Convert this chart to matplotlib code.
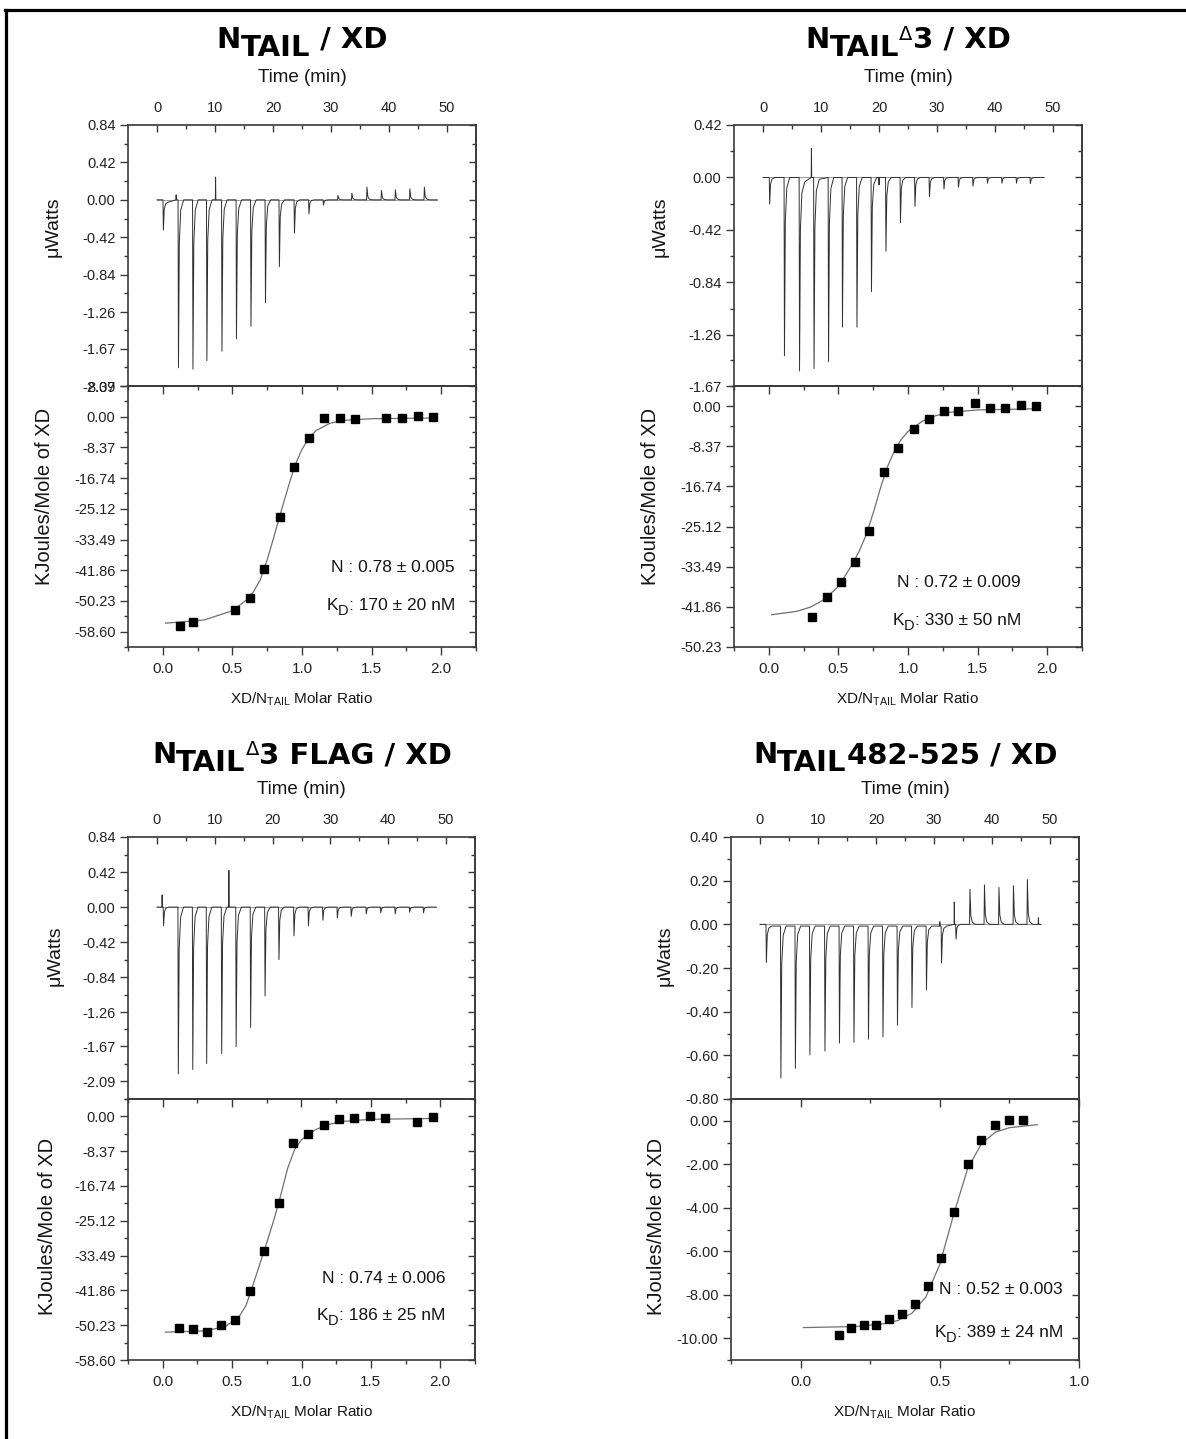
import matplotlib
matplotlib.use('Agg')
import matplotlib.pyplot as plt
from matplotlib.ticker import FixedLocator
from matplotlib.lines import Line2D

plt.rcParams['font.family'] = ['Liberation Sans', 'DejaVu Sans']
plt.rcParams['mathtext.fontset'] = 'custom'
plt.rcParams['mathtext.rm'] = 'Liberation Sans'
plt.rcParams['mathtext.it'] = 'Liberation Sans:italic'
plt.rcParams['mathtext.bf'] = 'Liberation Sans:bold'

# ---- raw thermograms: injection time (min) and peak height (uW) ----
p1_inj_t = [1.1, 3.7, 6.2, 8.6, 11.2, 13.7, 16.2, 18.7, 21.1, 23.7, 26.2, 28.7, 31.2, 33.6, 36.2, 38.7, 41.1, 43.6, 46.1]
p1_inj_h = [-0.34, -1.885, -1.90, -1.805, -1.70, -1.56, -1.42, -1.157, -0.75, -0.373, -0.158, -0.06, 0.05, 0.075, 0.143, 0.105, 0.113, 0.124, 0.143]
p1_art_t = [3.3, 10.1]
p1_art_h = [0.056, 0.256]
p1_drift = [(1.3, 3.2, -0.025), (10.3, 11.0, -0.035)]
p1_end = 48.3

p2_inj_t = [1.15, 3.7, 6.3, 8.8, 11.3, 13.7, 16.2, 18.7, 21.2, 23.7, 26.2, 28.7, 31.2, 33.7, 36.2, 38.7, 41.2, 43.7, 46.1]
p2_inj_h = [-0.213, -1.428, -1.549, -1.53, -1.474, -1.198, -1.198, -0.915, -0.591, -0.362, -0.232, -0.154, -0.092, -0.078, -0.07, -0.046, -0.046, -0.046, -0.05]
p2_art_t = [8.35, 20.0]
p2_art_h = [0.232, -0.06]
p2_drift = [(6.6, 8.2, -0.035), (8.95, 10.6, -0.015)]
p2_end = 48.4

p3_inj_t = [1.15, 3.7, 6.2, 8.6, 11.2, 13.7, 16.2, 18.7, 21.1, 23.7, 26.2, 28.7, 31.2, 33.6, 36.2, 38.7, 41.2, 43.7, 46.1]
p3_inj_h = [-0.223, -1.998, -1.946, -1.876, -1.755, -1.673, -1.442, -1.064, -0.63, -0.345, -0.223, -0.158, -0.13, -0.11, -0.081, -0.069, -0.081, -0.061, -0.069]
p3_art_t = [0.9, 12.44]
p3_art_h = [0.146, 0.439]
p3_drift = []
p3_end = 48.3

p4_inj_t = [1.1, 3.6, 6.1, 8.6, 11.2, 13.7, 16.2, 18.7, 21.2, 23.7, 26.2, 28.7, 31.3, 33.8, 36.2, 38.7, 41.2, 43.7, 46.1]
p4_inj_h = [-0.175, -0.704, -0.66, -0.598, -0.58, -0.544, -0.54, -0.526, -0.516, -0.462, -0.381, -0.30, -0.177, -0.068, 0.161, 0.181, 0.169, 0.177, 0.205]
p4_art_t = [31.0, 33.5, 48.0]
p4_art_h = [0.012, 0.102, 0.03]
p4_drift = [(1.3, 33.3, -0.008)]
p4_end = 48.4

# ---- integrated heats (kJ/mol of XD) ----
p1_ratio = [0.12, 0.22, 0.52, 0.63, 0.73, 0.84, 0.94, 1.05, 1.16, 1.27, 1.38, 1.60, 1.72, 1.83, 1.94]
p1_heat = [-57.1, -55.9, -52.8, -49.3, -41.5, -27.4, -13.8, -5.8, -0.4, -0.4, -0.7, -0.4, -0.4, 0.3, 0.0]
p1_fit_x = [0.02, 0.3, 0.5, 0.6, 0.65, 0.7, 0.75, 0.8, 0.85, 0.9, 0.95, 1.0, 1.05, 1.1, 1.2, 1.3, 1.5, 1.95]
p1_fit_y = [-56.3, -55.4, -52.9, -50.0, -47.8, -44.5, -39.0, -32.5, -25.8, -19.3, -13.2, -8.9, -5.8, -3.8, -1.8, -1.0, -0.55, -0.36]

p2_ratio = [0.31, 0.42, 0.52, 0.62, 0.72, 0.83, 0.93, 1.04, 1.15, 1.26, 1.36, 1.48, 1.59, 1.70, 1.81, 1.92]
p2_heat = [-44.0, -39.8, -36.6, -32.6, -26.0, -13.8, -8.7, -4.8, -2.7, -1.1, -1.0, 0.6, -0.3, -0.35, 0.3, 0.0]
p2_fit_x = [0.02, 0.2, 0.3, 0.4, 0.5, 0.6, 0.65, 0.7, 0.75, 0.8, 0.85, 0.9, 0.95, 1.0, 1.1, 1.2, 1.3, 1.5, 1.95]
p2_fit_y = [-43.5, -42.8, -41.9, -40.3, -37.6, -33.0, -30.2, -26.8, -22.3, -17.3, -12.8, -9.5, -7.0, -5.3, -3.2, -2.0, -1.3, -0.8, -0.55]

p3_ratio = [0.12, 0.22, 0.32, 0.42, 0.52, 0.63, 0.73, 0.84, 0.94, 1.05, 1.16, 1.27, 1.38, 1.49, 1.60, 1.83, 1.95]
p3_heat = [-50.8, -51.1, -51.9, -50.3, -49.0, -42.1, -32.3, -20.8, -6.5, -4.2, -2.0, -0.6, -0.3, 0.1, -0.3, -1.3, -0.2]
p3_fit_x = [0.02, 0.3, 0.45, 0.55, 0.6, 0.65, 0.7, 0.75, 0.8, 0.85, 0.9, 0.95, 1.0, 1.1, 1.2, 1.3, 1.5, 1.95]
p3_fit_y = [-51.9, -51.6, -50.6, -48.2, -45.5, -40.6, -35.5, -30.3, -25.0, -19.0, -12.5, -8.0, -5.6, -3.2, -1.9, -1.2, -0.7, -0.5]

p4_ratio = [0.137, 0.181, 0.227, 0.272, 0.317, 0.364, 0.41, 0.457, 0.504, 0.55, 0.60, 0.649, 0.698, 0.748, 0.798]
p4_heat = [-9.85, -9.55, -9.37, -9.39, -9.11, -8.88, -8.44, -7.61, -6.30, -4.20, -1.99, -0.87, -0.18, 0.02, 0.05]
p4_fit_x = [0.01, 0.2, 0.3, 0.35, 0.4, 0.45, 0.5, 0.55, 0.6, 0.65, 0.7, 0.75, 0.85]
p4_fit_y = [-9.51, -9.46, -9.33, -9.18, -8.85, -8.10, -6.60, -4.30, -2.20, -1.05, -0.52, -0.32, -0.18]

# ---- tick labels ----
p1_top_ticks = [0.84, 0.42, 0.00, -0.42, -0.84, -1.26, -1.67, -2.09]
p2_top_ticks = [0.42, 0.00, -0.42, -0.84, -1.26, -1.67]
p3_top_ticks = [0.84, 0.42, 0.00, -0.42, -0.84, -1.26, -1.67, -2.09]
p4_top_ticks = [0.40, 0.20, 0.00, -0.20, -0.40, -0.60, -0.80]
p1_bot_ticks = [8.37, 0.00, -8.37, -16.74, -25.12, -33.49, -41.86, -50.23, -58.60]
p2_bot_ticks = [0.00, -8.37, -16.74, -25.12, -33.49, -41.86, -50.23]
p3_bot_ticks = [0.00, -8.37, -16.74, -25.12, -33.49, -41.86, -50.23, -58.60]
p4_bot_ticks = [0.00, -2.00, -4.00, -6.00, -8.00, -10.00]

p_n = ['N : 0.78 \u00b1 0.005', 'N : 0.72 \u00b1 0.009', 'N : 0.74 \u00b1 0.006', 'N : 0.52 \u00b1 0.003']
p_kd = [': 170 \u00b1 20 nM', ': 330 \u00b1 50 nM', ': 186 \u00b1 25 nM', ': 389 \u00b1 24 nM']

W, H = 1186, 1439
fig = plt.figure(figsize=(W / 100, H / 100), dpi=100)
SP = '#3a3a3a'
TXT = '#151515'


def px_axes(l, t, r, b):
    return fig.add_axes([l / W, 1 - b / H, (r - l) / W, (b - t) / H])


def mids(v, lo, hi):
    v = sorted(v)
    m = [(a + b) / 2 for a, b in zip(v[:-1], v[1:])]
    step = v[1] - v[0]
    m += [v[0] - step / 2, v[-1] + step / 2]
    return [x for x in m if lo - 1e-9 <= x <= hi + 1e-9]


def pieces_text(x_px, base_y, pieces, align='center'):
    # pieces: (text, size, dy_px, kwargs); placed one after another on a baseline
    rend = fig.canvas.get_renderer()
    objs = []
    for s, size, dy, kw in pieces:
        tt = fig.text(0, 0, s, fontsize=size, va='baseline', color=kw.pop('color', 'black'), **kw)
        objs.append((tt, dy, tt.get_window_extent(rend).width))
    total = sum(o[2] for o in objs)
    x = x_px - total / 2 if align == 'center' else x_px - total
    for tt, dy, w in objs:
        tt.set_position((x / W, 1 - (base_y + dy) / H))
        x += w


def style_y(ax, ticks, ylim, fmt):
    ax.set_ylim(ylim)
    ax.set_yticks(ticks)
    ax.set_yticklabels([fmt % t for t in ticks])
    ax.yaxis.set_minor_locator(FixedLocator(mids(ticks, *ylim)))
    ax.tick_params(axis='y', which='both', direction='out', left=True, right=False,
                   colors=SP, labelcolor='#222', labelsize=10.5, pad=3)
    ax.tick_params(axis='y', which='major', length=6, width=1)
    ax.tick_params(axis='y', which='minor', length=3, width=1)
    sec = ax.secondary_yaxis('right')
    sec.set_yticks(ticks)
    sec.yaxis.set_minor_locator(FixedLocator(mids(ticks, *ylim)))
    sec.tick_params(which='both', direction='in', labelright=False, colors=SP)
    sec.tick_params(which='major', length=5, width=1)
    sec.tick_params(which='minor', length=3, width=1)
    sec.spines['right'].set_color(SP)
    sec.spines['right'].set_linewidth(1.2)
    for s in ax.spines.values():
        s.set_color(SP)
        s.set_linewidth(1.2)


def build_trace(inj_t, inj_h, art_t, art_h, drift, t_end):
    def lvl(t):
        for a, b, v in drift:
            if a <= t <= b:
                return v
        return 0.0
    pts = [(0.0, 0.0)]
    for t, h in zip(inj_t, inj_h):
        L = lvl(t + 0.9)
        pts += [(t - 0.07, lvl(t - 0.07)), (t, h), (t + 0.15, L + 0.25 * (h - L)),
                (t + 0.4, L + 0.06 * (h - L)), (t + 0.9, L)]
    for t, h in zip(art_t, art_h):
        pts += [(t - 0.04, lvl(t - 0.04)), (t, h), (t + 0.05, lvl(t + 0.05))]
    pts.append((t_end, 0.0))
    pts.sort(key=lambda p: p[0])
    return [p[0] for p in pts], [p[1] for p in pts]


def top_panel(l, t, r, b, inj_t, inj_h, art_t, art_h, drift, t_end, ticks, ylim, lab_y):
    ax = px_axes(l, t, r, b)
    ax.set_xlim(-5, 55)
    ax.plot([0, t_end], [0, 0], color='#8a8a8a', lw=0.6)
    tx, ty = build_trace(inj_t, inj_h, art_t, art_h, drift, t_end)
    ax.plot(tx, ty, color='#303030', lw=0.7)
    ax.xaxis.tick_top()
    ax.set_xticks([0, 10, 20, 30, 40, 50])
    ax.set_xticks([5, 15, 25, 35, 45], minor=True)
    ax.tick_params(axis='x', which='both', direction='in', top=True, bottom=False,
                   labeltop=True, labelbottom=False, colors=SP, labelcolor='#222',
                   labelsize=10.5, pad=7)
    ax.tick_params(axis='x', which='major', length=5, width=1)
    ax.tick_params(axis='x', which='minor', length=3, width=1)
    style_y(ax, ticks, ylim, '%.2f')
    ax.text(0.5, 1 + 43 / (b - t), 'Time (min)', transform=ax.transAxes, ha='center',
            va='baseline', fontsize=13.5, color=TXT)
    ax.text(lab_y[0], lab_y[1], '\u03bcWatts', transform=ax.transAxes, rotation=90,
            ha='center', va='center', fontsize=14, color=TXT)
    return ax


def bot_panel(l, t, r, b, rx, hy, fx, fy, ticks, ylim, xlim, xmaj, lab_y, ntxt, kdtxt, txy):
    ax = px_axes(l, t, r, b)
    ax.set_xlim(xlim)
    ax.plot(fx, fy, color='#707070', lw=0.9)
    ax.plot(rx, hy, 's', color='black', ms=5.3, mec='black')
    ax.set_xticks(xmaj)
    ax.set_xticklabels(['%.1f' % v for v in xmaj])
    xmin_ = mids(xmaj, *xlim)
    ax.xaxis.set_minor_locator(FixedLocator(xmin_))
    ax.tick_params(axis='x', which='both', direction='out', bottom=True, top=False,
                   colors=SP, labelcolor='#222', labelsize=11, pad=5)
    ax.tick_params(axis='x', which='major', length=6, width=1)
    ax.tick_params(axis='x', which='minor', length=3, width=1)
    sec = ax.secondary_xaxis('top')
    sec.set_xticks(xmaj)
    sec.xaxis.set_minor_locator(FixedLocator(xmin_))
    sec.tick_params(which='both', direction='in', labeltop=False, colors=SP)
    sec.tick_params(which='major', length=6, width=1)
    sec.tick_params(which='minor', length=3, width=1)
    sec.spines['top'].set_color(SP)
    sec.spines['top'].set_linewidth(1.2)
    style_y(ax, ticks, ylim, '%.2f')
    ax.text(0.5, -57 / (b - t), r'XD/N$_{\mathrm{TAIL}}$ Molar Ratio', transform=ax.transAxes,
            ha='center', va='baseline', fontsize=11, color=TXT)
    ax.text(lab_y[0], lab_y[1], 'KJoules/Mole of XD', transform=ax.transAxes, rotation=90,
            ha='center', va='center', fontsize=14.5, color=TXT)
    ax.text(txy[0], txy[1], ntxt, transform=ax.transAxes, ha='right', va='center',
            fontsize=12.5, color=TXT)
    xr = l + txy[0] * (r - l)
    yb = b - txy[2] * (b - t) + 6
    pieces_text(xr, yb, [('K', 12.5, 0, {'color': TXT}), ('D', 10.5, 5, {'color': TXT}),
                         (kdtxt, 12.5, 0, {'color': TXT})], align='right')
    return ax


def title(cx, base_y, pieces):
    bold = {'family': 'DejaVu Sans', 'fontweight': 'bold'}
    spec = []
    for s, kind in pieces:
        if kind == 'd':
            spec.append((s, 14, -8, {'family': 'DejaVu Sans'}))
        elif kind == 's':
            spec.append((s, 21, 8, dict(bold)))
        else:
            spec.append((s, 21, 0, dict(bold)))
    pieces_text(cx, base_y, spec)


x2 = [0.0, 0.5, 1.0, 1.5, 2.0]
x1 = [0.0, 0.5, 1.0]

# panel 1
top_panel(128, 125, 476, 386, p1_inj_t, p1_inj_h, p1_art_t, p1_art_h, p1_drift, p1_end,
          p1_top_ticks, (-2.09, 0.84), (-0.216, 0.61))
bot_panel(128, 386, 476, 647, p1_ratio, p1_heat, p1_fit_x, p1_fit_y, p1_bot_ticks,
          (-62.79, 8.37), (-0.25, 2.25), x2, (-0.24, 0.575), p_n[0], p_kd[0], (0.94, 0.303, 0.165))
title(302, 48, [('N', 'b'), ('TAIL', 's'), (' / XD', 'b')])

# panel 2
top_panel(734, 125, 1082, 386, p2_inj_t, p2_inj_h, p2_art_t, p2_art_h, p2_drift, p2_end,
          p2_top_ticks, (-1.67, 0.42), (-0.213, 0.61))
bot_panel(734, 386, 1082, 647, p2_ratio, p2_heat, p2_fit_x, p2_fit_y, p2_bot_ticks,
          (-50.23, 4.185), (-0.25, 2.25), x2, (-0.24, 0.575), p_n[1], p_kd[1], (0.825, 0.249, 0.107))
title(908, 48, [('N', 'b'), ('TAIL', 's'), ('\u0394', 'd'), ('3 / XD', 'b')])

# panel 3
top_panel(128, 837, 475, 1099, p3_inj_t, p3_inj_h, p3_art_t, p3_art_h, p3_drift, p3_end,
          p3_top_ticks, (-2.30, 0.84), (-0.21, 0.546))
bot_panel(128, 1099, 475, 1360, p3_ratio, p3_heat, p3_fit_x, p3_fit_y, p3_bot_ticks,
          (-58.60, 4.185), (-0.25, 2.25), x2, (-0.233, 0.51), p_n[2], p_kd[2], (0.914, 0.314, 0.176))
title(302, 763, [('N', 'b'), ('TAIL', 's'), ('\u0394', 'd'), ('3 FLAG / XD', 'b')])

# panel 4
top_panel(731, 837, 1079, 1099, p4_inj_t, p4_inj_h, p4_art_t, p4_art_h, p4_drift, p4_end,
          p4_top_ticks, (-0.80, 0.40), (-0.19, 0.546))
bot_panel(731, 1099, 1079, 1360, p4_ratio, p4_heat, p4_fit_x, p4_fit_y, p4_bot_ticks,
          (-11.0, 1.0), (-0.25, 1.0), x1, (-0.215, 0.51), p_n[3], p_kd[3], (0.954, 0.272, 0.111))
title(905, 763, [('N', 'b'), ('TAIL', 's'), ('482-525 / XD', 'b')])

# frame lines (top and left)
fig.add_artist(Line2D([5 / W, 1], [1 - 9.5 / H, 1 - 9.5 / H], color='black', lw=2.3))
fig.add_artist(Line2D([6 / W, 6 / W], [0, 1 - 9.5 / H], color='black', lw=2.3))

fig.savefig('out.png', dpi=100)
